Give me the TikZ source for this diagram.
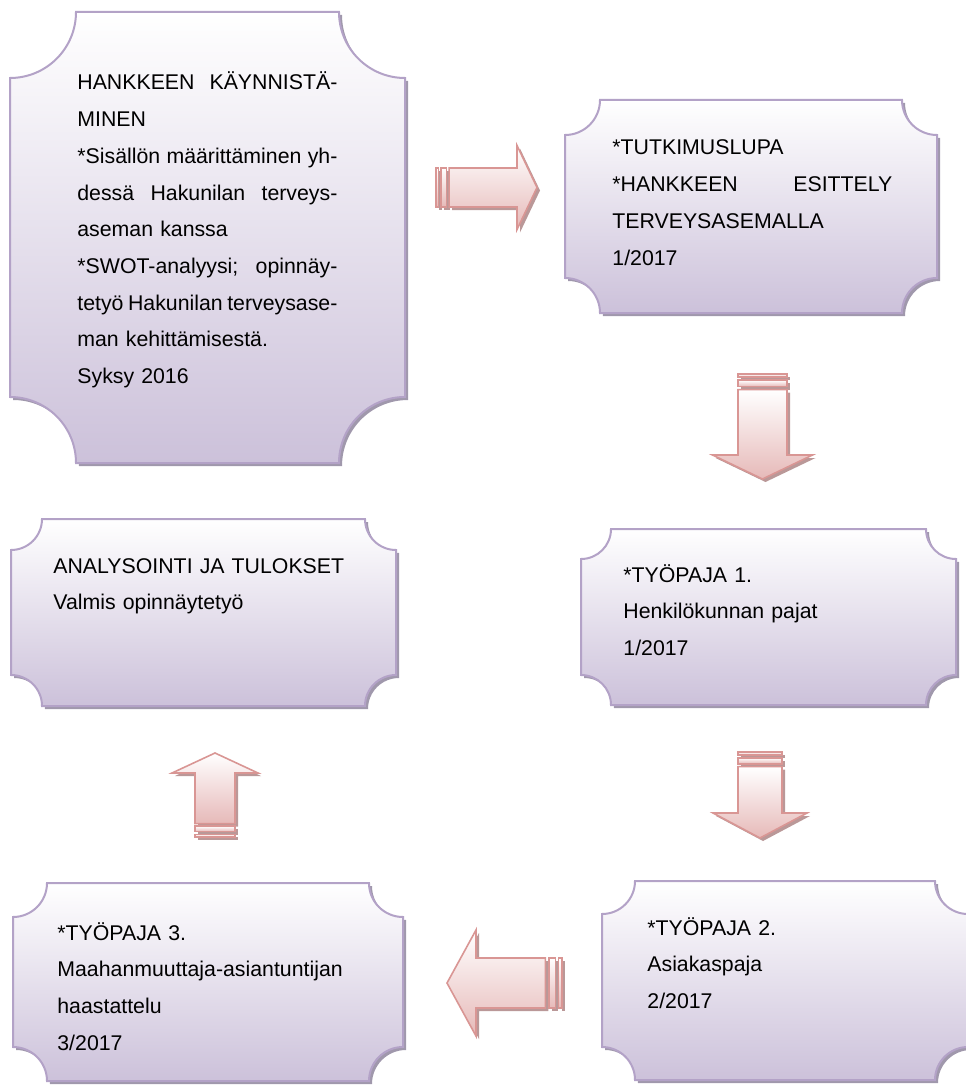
\documentclass[tikz,border=0pt]{standalone}
\usepackage{fontspec}
\setmainfont{Liberation Sans}
\usetikzlibrary{calc}

\definecolor{laventeli}{RGB}{204,193,218}
\definecolor{laattareuna}{RGB}{179,162,199}
\definecolor{laattavarjo}{RGB}{160,152,172}
\definecolor{nuolireuna}{RGB}{217,150,148}
\definecolor{nuolipohja}{RGB}{230,185,184}
\definecolor{nuolivarjo}{RGB}{186,152,152}

\tikzset{
	laattapohja/.style={top color=white, bottom color=laventeli, draw=laattareuna, line width=1pt},
	laattavarjo/.style={fill=laattavarjo},
	nuolipohja/.style={top color=white, bottom color=nuolipohja, draw=nuolireuna, line width=0.8pt},
	nuolivarjo/.style={fill=nuolivarjo},
	teksti/.style={anchor=base west, inner sep=0pt, align=left, font=\fontsize{10.65}{18.35}\selectfont}
}

% plaque: (x1,y1)(x2,y2)(r), y grows downwards
\def\laatta(#1,#2)(#3,#4)(#5){%
	\foreach \dd/\tyyli in {3/laattavarjo,0/laattapohja}
		\path[\tyyli, shift={(\dd,\dd)}] (#1+#5,#2) -- (#3-#5,#2)
			arc[start angle=180, end angle=90, radius=#5] -- (#3,#4-#5)
			arc[start angle=270, end angle=180, radius=#5] -- (#1+#5,#4)
			arc[start angle=0, end angle=-90, radius=#5] -- (#1,#2+#5)
			arc[start angle=90, end angle=0, radius=#5] -- cycle;
}
% striped block arrow: (tail centre)(angle:length:body half:head half:head length)
\def\nuoli(#1,#2)(#3:#4:#5:#6:#7){%
	\foreach \dd/\tyyli in {3/nuolivarjo,0/nuolipohja}{
		\begin{scope}[shift={(#1+\dd,#2+\dd)}, rotate=#3]
			\path[\tyyli] (0,-#5) rectangle ({#6/16},#5);
			\path[\tyyli] ({#6/8},-#5) rectangle ({#6/4},#5);
			\path[\tyyli] ({5*#6/16},-#5) -- (#4-#7,-#5) -- (#4-#7,-#6) -- (#4,0)
				-- (#4-#7,#6) -- (#4-#7,#5) -- ({5*#6/16},#5) -- cycle;
		\end{scope}
	}
}
% justified line
\def\rivi#1#2{\leavevmode\hbox to #1{#2}}

\begin{document}
\begin{tikzpicture}[x=0.5pt, y=-0.5pt]
		%%%%% START %%%%%
		\useasboundingbox (0,0) rectangle (965,1086);
		
		\laatta(10,12)(405,463)(66);
		\laatta(565,100)(937,313)(35);
		\laatta(11,519)(396,706)(31);
		\laatta(581,529)(956,705)(30);
		\laatta(602,881)(968,1080)(33);
		\laatta(13,883)(403,1081)(34);
		
		\nuoli(436,187.5)(0:101:19.5:42:20);
		\nuoli(762.5,374)(-90:105:24.5:50:24);
		\nuoli(760,752)(-90:86:22:47:25);
		\nuoli(562,983)(180:115:25:53:29);
		\nuoli(215,837)(90:84:20:43:20);
		
		\node[teksti, text width=130pt] (kaynnistys) at (77,90) {\rivi{130pt}{HANKKEEN\hfill KÄYNNISTÄ-}\\
			MINEN\\
			\rivi{130pt}{*Sisällön\hfill määrittäminen\hfill yh-}\\
			\rivi{130pt}{dessä\hfill Hakunilan\hfill terveys-}\\
			aseman kanssa\\
			\rivi{130pt}{*SWOT-analyysi;\hfill opinnäy-}\\
			\rivi{130pt}{tetyö\hfill Hakunilan\hfill terveysase-}\\
			man kehittämisestä.\\
			Syksy 2016};
		\node[teksti, text width=140pt] (tutkimuslupa) at (612,155) {*TUTKIMUSLUPA\\
			\rivi{140pt}{*HANKKEEN\hfill ESITTELY}\\
			TERVEYSASEMALLA\\
			1/2017};
		\node[teksti, text width=160pt] (analysointi) at (53,573) {ANALYSOINTI JA TULOKSET\\
			Valmis opinnäytetyö};
		\node[teksti, text width=150pt] (tyopaja1) at (623,582) {*TYÖPAJA 1.\\
			Henkilökunnan pajat\\
			1/2017};
		\node[teksti, text width=140pt] (tyopaja2) at (647,935) {*TYÖPAJA 2.\\
			Asiakaspaja\\
			2/2017};
		\node[teksti, text width=160pt] (tyopaja3) at (57,940) {*TYÖPAJA 3.\\
			Maahanmuuttaja-asiantuntijan\\
			haastattelu\\
			3/2017};
		
		%%%%% END %%%%%
\end{tikzpicture}
\end{document}
